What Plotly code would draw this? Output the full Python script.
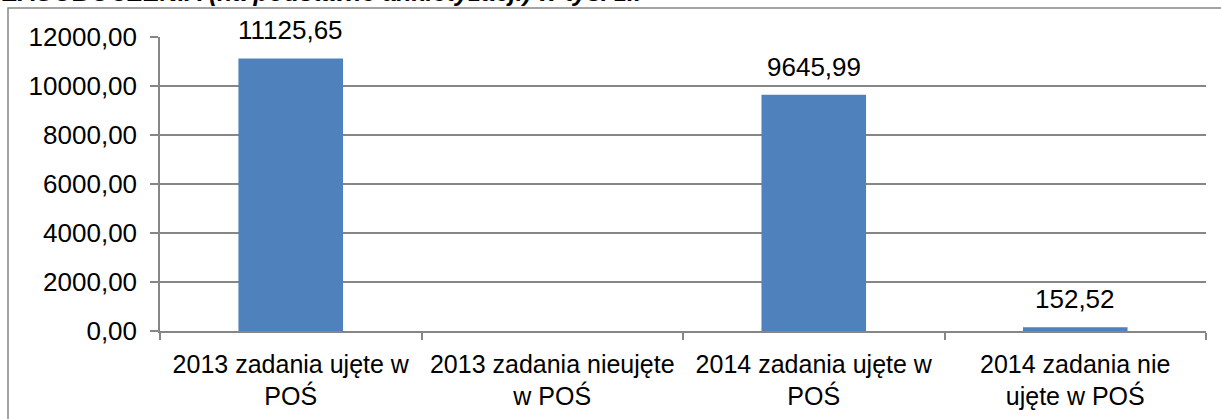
import plotly.graph_objects as go

categories = [
    "2013 zadania ujęte w<br>POŚ",
    "2013 zadania nieujęte<br>w POŚ",
    "2014 zadania ujęte w<br>POŚ",
    "2014 zadania nie<br>ujęte w POŚ",
]
values = [11125.65, None, 9645.99, 152.52]
y_ticks = [0, 2000, 4000, 6000, 8000, 10000, 12000]
title_text = "ZASOBOCZENIA (na podstawie ankietyzacji) w tys. zł."

FONT = "Liberation Sans, Arial, sans-serif"
GRID = "#868686"

fig = go.Figure()
fig.add_trace(go.Bar(
    x=categories,
    y=values,
    marker=dict(color="#4F81BD", line=dict(width=0)),
    hoverinfo="skip",
))

# data labels
for c, v in zip(categories, values):
    if v is None:
        continue
    fig.add_annotation(
        x=c, y=v, xref="x", yref="y",
        text=f"{v:.2f}".replace(".", ","),
        showarrow=False, yanchor="bottom", yshift=11,
        font=dict(family=FONT, size=26, color="black"),
    )

W, H = 1221, 419
L, R, T, B = 160, 15, 37, 88
pw = W - L - R
ph = H - T - B

def px_x(p):
    return (p - L) / pw

def px_y(p):
    return (H - B - p) / ph

fig.update_layout(
    width=W, height=H,
    margin=dict(l=L, r=R, t=T, b=B, pad=0, autoexpand=False),
    paper_bgcolor="white",
    plot_bgcolor="white",
    separators=", ",
    showlegend=False,
    bargap=0.6,
    font=dict(family=FONT, size=25, color="black"),
)
fig.update_xaxes(
    type="category",
    showgrid=False,
    showline=True, linecolor=GRID, linewidth=1.5,
    ticks="outside", tickson="boundaries", ticklen=7, tickcolor=GRID, tickwidth=1.5,
    ticklabelstandoff=10,
    tickfont=dict(family=FONT, size=25, color="black"),
    zeroline=False,
)
fig.update_yaxes(
    range=[0, 12000],
    tickvals=y_ticks,
    tickformat=".2f",
    showgrid=True, gridcolor=GRID, gridwidth=1.5,
    showline=True, linecolor=GRID, linewidth=1.5,
    ticks="outside", ticklen=8, tickcolor=GRID, tickwidth=1.5,
    ticklabelstandoff=8,
    tickfont=dict(family=FONT, size=26, color="black"),
    zeroline=False,
)

# cropped title above the frame
fig.add_annotation(
    xref="paper", yref="paper",
    x=px_x(0), y=px_y(8),
    xanchor="left", yanchor="bottom",
    text="<b><i>" + title_text + "</i></b>",
    showarrow=False,
    font=dict(family=FONT, size=25, color="black"),
)

# outer chart frame (extends beyond the visible area on right and bottom)
fig.add_shape(
    type="rect", xref="paper", yref="paper",
    x0=px_x(8), x1=px_x(W + 50), y0=px_y(H + 50), y1=px_y(8),
    line=dict(color=GRID, width=1.5), fillcolor="rgba(0,0,0,0)", layer="above",
)

fig.write_html(
    "out.html",
    config={"displayModeBar": False},
    post_script="document.body.style.margin='0px';document.body.style.overflow='hidden';",
)
